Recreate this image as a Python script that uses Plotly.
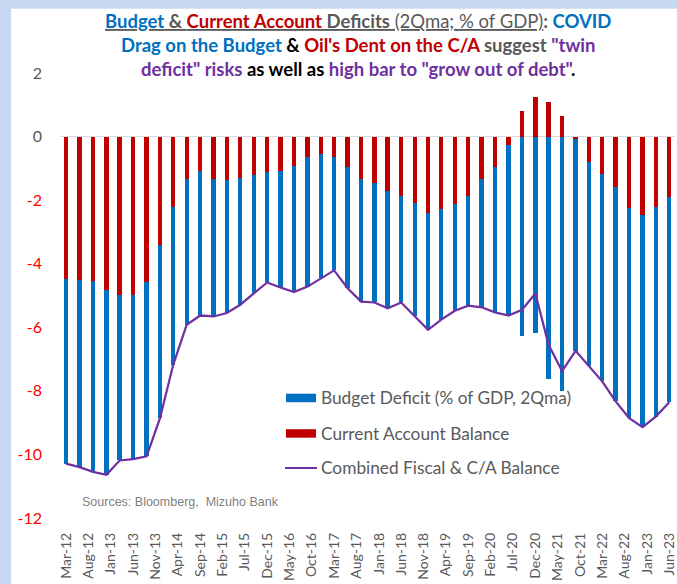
import pandas as pd
import plotly.graph_objects as go

# ---------------- data ----------------
quarters = pd.date_range("2012-03-01", periods=46, freq="3MS")

current_account = [-4.47, -4.51, -4.54, -4.82, -4.97, -4.97, -4.59, -3.41, -2.20, -1.34,
                   -1.08, -1.33, -1.36, -1.29, -1.20, -1.13, -1.08, -0.92, -0.65, -0.55,
                   -0.63, -0.95, -1.33, -1.47, -1.70, -1.86, -2.10, -2.40, -2.29, -2.13,
                   -1.86, -1.35, -0.95, -0.26, 0.81, 1.25, 1.08, 0.64, -0.07, -0.79,
                   -1.19, -1.59, -2.26, -2.48, -2.22, -1.90]

budget_deficit = [-5.82, -5.89, -6.01, -5.82, -5.22, -5.18, -5.47, -5.45, -4.98, -4.58,
                  -4.55, -4.33, -4.19, -4.00, -3.73, -3.46, -3.67, -3.97, -4.07, -3.90,
                  -3.58, -3.82, -3.86, -3.75, -3.70, -3.36, -3.56, -3.68, -3.47, -3.35,
                  -3.46, -4.02, -4.58, -5.37, -6.26, -6.19, -7.63, -8.02, -6.67, -6.44,
                  -6.51, -6.74, -6.60, -6.66, -6.59, -6.46]

combined = [-10.29, -10.40, -10.55, -10.64, -10.19, -10.15, -10.06, -8.86, -7.18, -5.92,
            -5.63, -5.66, -5.55, -5.29, -4.93, -4.59, -4.75, -4.89, -4.72, -4.45,
            -4.21, -4.77, -5.19, -5.22, -5.40, -5.22, -5.66, -6.08, -5.76, -5.48,
            -5.32, -5.37, -5.53, -5.63, -5.45, -4.94, -6.55, -7.38, -6.74, -7.23,
            -7.70, -8.33, -8.86, -9.14, -8.81, -8.36]

x_tick_labels = ["Mar-12", "Aug-12", "Jan-13", "Jun-13", "Nov-13", "Apr-14", "Sep-14",
                 "Feb-15", "Jul-15", "Dec-15", "May-16", "Oct-16", "Mar-17", "Aug-17",
                 "Jan-18", "Jun-18", "Nov-18", "Apr-19", "Sep-19", "Feb-20", "Jul-20",
                 "Dec-20", "May-21", "Oct-21", "Mar-22", "Aug-22", "Jan-23", "Jun-23"]
x_tick_vals = pd.to_datetime(x_tick_labels, format="%b-%y")

y_tick_vals = [2, 0, -2, -4, -6, -8, -10, -12]

# ---------------- style ----------------
BLUE = "#0070C0"
RED = "#C00000"
PURPLE = "#7030A0"
GREY = "#595959"
FONT = "Lato"

W, H = 677, 584
L, R = 60, 2
T_PX, B_PX = 73.3, 518.3


def px_x(px):
    return (px - L) / (W - L - R)


def px_y(py):
    return (B_PX - py) / (B_PX - T_PX)


bar_w = 30 * 86400000

fig = go.Figure()
fig.add_trace(go.Bar(x=quarters, y=current_account, name="Current Account Balance",
                     marker=dict(color=RED, line=dict(width=0)), width=bar_w))
fig.add_trace(go.Bar(x=quarters, y=budget_deficit, name="Budget Deficit (% of GDP, 2Qma)",
                     marker=dict(color=BLUE, line=dict(width=0)), width=bar_w))
fig.add_trace(go.Scatter(x=quarters, y=combined, mode="lines",
                         name="Combined Fiscal & C/A Balance",
                         line=dict(color=PURPLE, width=2.25)))

y_tick_text = [
    (f"<span style='color:{GREY}'>{v}</span>" if v >= 0 else f"<span style='color:#FF0000'>{v}</span>")
    for v in y_tick_vals
]

shapes = [
    # white panel on light blue background
    dict(type="rect", xref="paper", yref="paper", layer="below",
         x0=px_x(11), x1=px_x(W + 5), y0=px_y(H + 20), y1=px_y(9),
         fillcolor="white", line=dict(width=0)),
    # legend symbols
    dict(type="rect", xref="paper", yref="paper",
         x0=px_x(286), x1=px_x(316), y0=px_y(402.5), y1=px_y(394),
         fillcolor=BLUE, line=dict(width=0)),
    dict(type="rect", xref="paper", yref="paper",
         x0=px_x(286), x1=px_x(316), y0=px_y(438), y1=px_y(429.5),
         fillcolor=RED, line=dict(width=0)),
    dict(type="line", xref="paper", yref="paper",
         x0=px_x(285), x1=px_x(317), y0=px_y(468.3), y1=px_y(468.3),
         line=dict(color=PURPLE, width=2)),
]

legend_texts = [("Budget Deficit (% of GDP, 2Qma)", 398),
                ("Current Account Balance", 433.5),
                ("Combined Fiscal & C/A Balance", 468)]

annotations = []
for txt, yy in legend_texts:
    annotations.append(dict(text=txt, xref="paper", yref="paper", x=px_x(319), y=px_y(yy),
                            xanchor="left", yanchor="middle", showarrow=False,
                            font=dict(family=FONT, size=17.3, color=GREY)))

annotations.append(dict(text="Sources: Bloomberg,  Mizuho Bank", xref="paper", yref="paper",
                        x=px_x(80), y=px_y(502), xanchor="left", yanchor="middle",
                        showarrow=False,
                        font=dict(family="Liberation Sans, Arial", size=12.5, color="#808080")))

title = (
    f"<b><u><span style='color:{BLUE}'>Budget</span>"
    f"<span style='color:{GREY}'> &amp; </span>"
    f"<span style='color:{RED}'>Current Account</span>"
    f"<span style='color:{GREY}'> Deficits</span></u></b>"
    f"<u><span style='color:{GREY}'> (2Qma; % of GDP)</span></u>"
    f"<b><span style='color:{GREY}'>: </span></b>"
    f"<b><span style='color:{BLUE}'>COVID</span></b><br>"
    f"<b><span style='color:{BLUE}'>Drag on the Budget</span></b>"
    f"<b><span style='color:#000000'> &amp; </span></b>"
    f"<b><span style='color:{RED}'>Oil's Dent on the C/A</span></b>"
    f"<b><span style='color:{GREY}'> suggest </span></b>"
    f"<b><span style='color:{PURPLE}'>\"twin</span></b><br>"
    f"<b><span style='color:{PURPLE}'>deficit\" risks</span></b>"
    f"<b><span style='color:#000000'> as well as </span></b>"
    f"<b><span style='color:{PURPLE}'>high bar to \"grow out of debt\"</span></b>"
    f"<b><span style='color:#000000'>.</span></b>"
)
annotations.append(dict(text=title, xref="paper", yref="paper", x=px_x(358), y=px_y(45.5),
                        xanchor="center", yanchor="middle", showarrow=False, align="center",
                        font=dict(family=FONT, size=18.5, color=GREY)))

fig.update_layout(
    width=W, height=H,
    margin=dict(l=L, r=R, t=T_PX, b=H - B_PX, pad=0, autoexpand=False),
    paper_bgcolor="#C6D9F1",
    plot_bgcolor="rgba(0,0,0,0)",
    barmode="relative",
    bargap=0,
    showlegend=False,
    hovermode=False,
    shapes=shapes,
    annotations=annotations,
    xaxis=dict(type="date", range=["2012-01-20", "2023-07-10"],
               tickmode="array", tickvals=x_tick_vals, ticktext=x_tick_labels,
               tickangle=-90, showgrid=False, zeroline=False, showline=False,
               ticks="", ticklabelstandoff=11, automargin=False,
               tickfont=dict(family=FONT, size=14, color=GREY)),
    yaxis=dict(range=[-12, 2], tickmode="array", tickvals=y_tick_vals, ticktext=y_tick_text,
               showgrid=False, zeroline=True, zerolinecolor="#D9D9D9", zerolinewidth=1.5,
               showline=False, ticks="", ticklabelstandoff=17, automargin=False,
               tickfont=dict(family=FONT, size=16, color=GREY)),
)

fig.write_html("out.html",
               config={"displayModeBar": False, "staticPlot": True},
               post_script="document.body.style.margin='0';document.body.style.padding='0';")
